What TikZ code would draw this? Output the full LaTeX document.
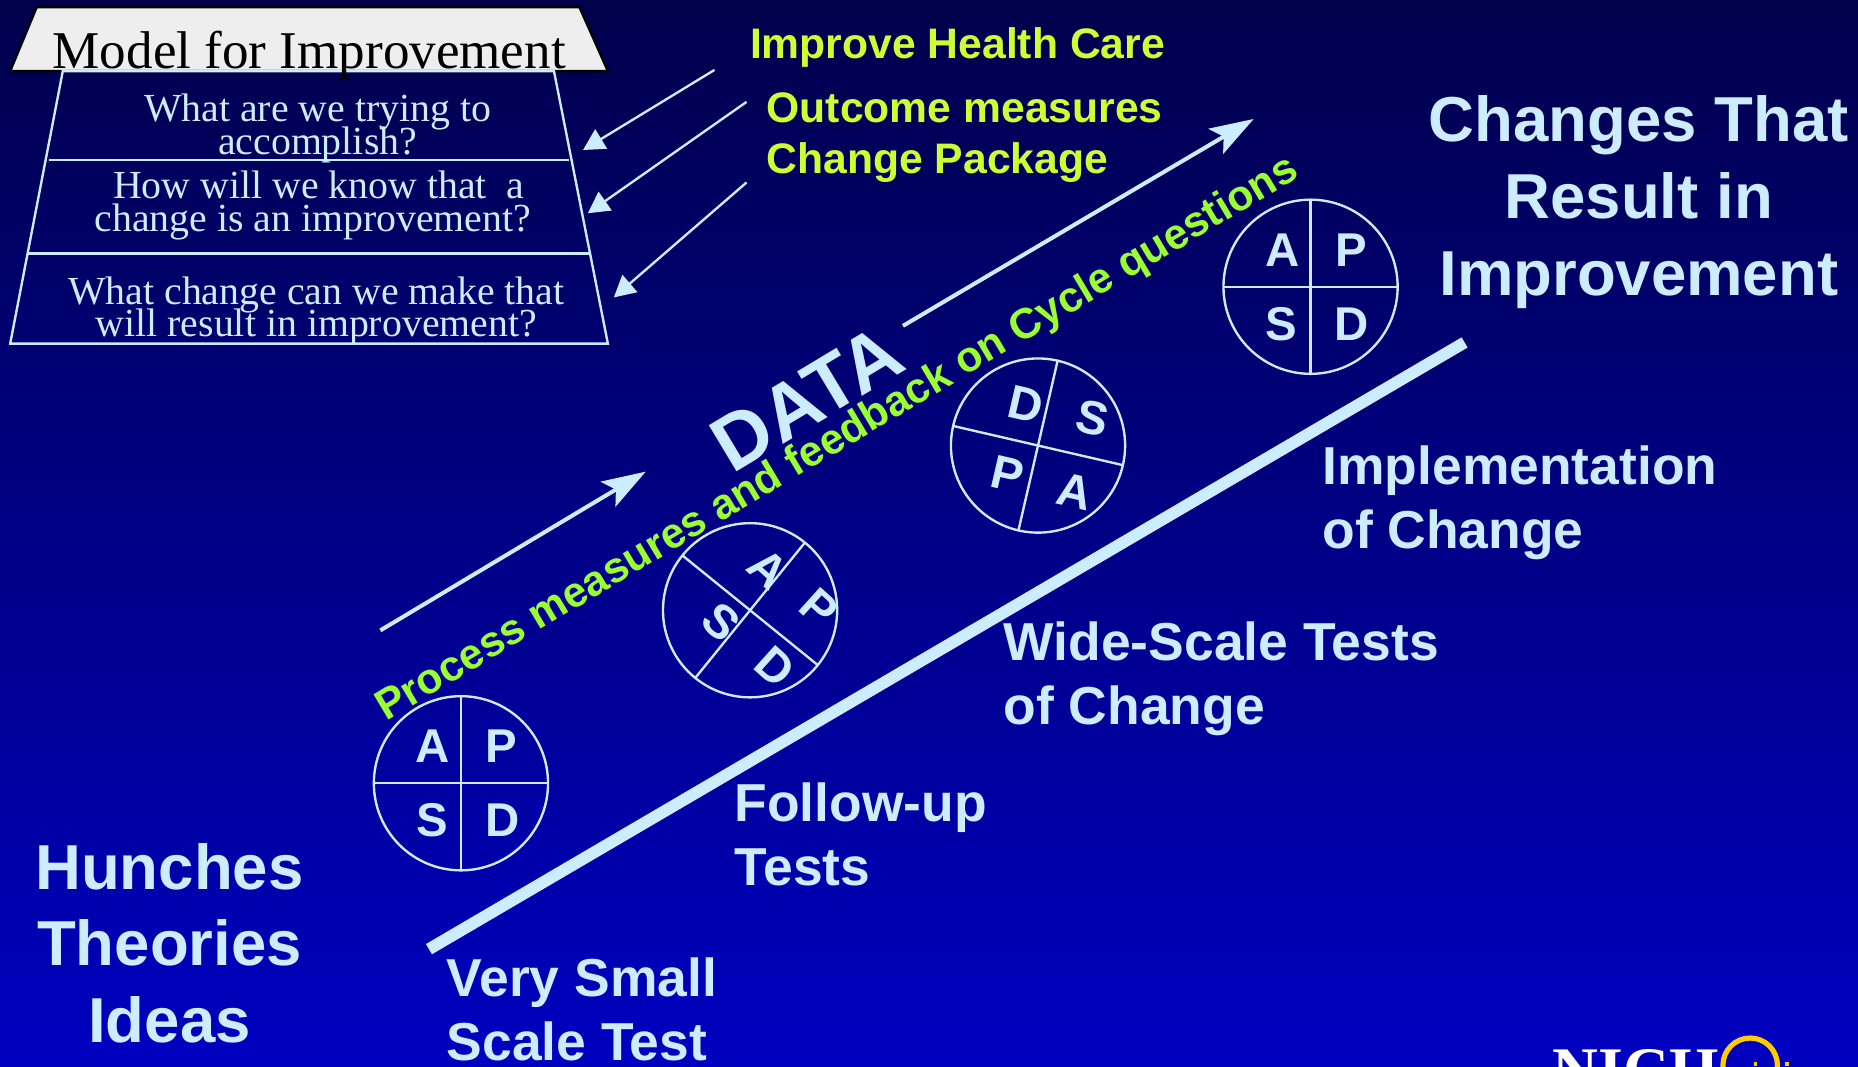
\documentclass[tikz,border=0pt]{standalone}
\usepackage{fontspec}
\setmainfont{Liberation Serif}
\setsansfont{Liberation Sans}
\usetikzlibrary{arrows.meta}
\definecolor{ice}{HTML}{CCECFF}
\definecolor{lime}{HTML}{CCFF33}
\definecolor{grn}{HTML}{99FF33}
\definecolor{bgtop}{HTML}{00004B}
\definecolor{bgmid}{HTML}{00008C}
\definecolor{bgbot}{HTML}{0000C0}
\definecolor{panel}{HTML}{EEEEEE}
\definecolor{logoy}{HTML}{FFCC00}
\newcommand{\fs}[2]{\fontsize{#1pt}{#2pt}\selectfont}
\newcommand{\tightlines}{\setlength{\lineskiplimit}{-30pt}}
\newcommand{\qfont}{\rmfamily\fs{16.8}{13.7}\tightlines}
\tikzset{
  x=0.5pt,y=-0.5pt,
  lbl/.style={inner sep=0pt,outer sep=0pt,font=\sffamily\bfseries\fs{22.55}{27},text=ice,align=left,anchor=base west},
  big/.style={inner sep=0pt,outer sep=0pt,font=\sffamily\bfseries\fs{26.8}{32.4},text=ice,align=center,anchor=base},
  limet/.style={inner sep=0pt,outer sep=0pt,font=\sffamily\bfseries\fs{18}{21},text=lime,anchor=base west},
  ques/.style={inner sep=0pt,outer sep=0pt,font=\qfont,text=ice,align=center,anchor=base},
  pdsa/.style={circle,draw=ice,line width=1pt,minimum size=73.5pt,inner sep=0pt,outer sep=0pt},
  let/.style={inner sep=0pt,outer sep=0pt,font=\sffamily\bfseries\fs{20}{24},text=ice},
  div/.style={draw=ice,line width=1pt},
  frame/.style={draw=ice,line width=1pt},
  arr/.style={draw=ice,line width=1pt,-{Triangle[length=9pt,width=9.5pt]}},
  bigarr/.style={draw=ice,line width=1.7pt,-{Stealth[length=18.5pt,width=12.2pt,inset=3.8pt]}},
}
\begin{document}
\begin{tikzpicture}
\useasboundingbox (0,0) rectangle (1568,900);
\shade[top color=bgtop,middle color=bgmid,bottom color=bgbot] (0,0) rectangle (1568,900);

% header panel and question frame
\draw[fill=panel,draw=black,line width=1pt] (8.6,60) -- (31,6) -- (489,6) -- (513,60) -- cycle;
\draw[frame] (53,60) -- (467.5,60) -- (513,290) -- (8.6,290) -- cycle;
\node[inner sep=0pt,font=\rmfamily\fs{22.4}{26},text=black,anchor=base] (title) at (261,58) {Model for Improvement};
\draw[frame] (41,135) -- (480,135);
\draw[frame] (24,214) -- (497,214);
\node[ques] (q1) at (268,130) {What are we trying to\\accomplish?};
\node[ques] (q2) at (264,195) {\hspace*{5pt}How will we know that\ \ a\\change is an improvement?};
\node[ques] (q3) at (267,284) {What change can we make that\\will result in improvement?};

% yellow labels
\node[limet] (l1) at (633,49) {Improve Health Care};
\node[limet] (l2) at (647,103) {Outcome measures};
\node[limet] (l3) at (647,146) {Change Package};

% small arrows
\coordinate (a1s) at (603,59); \coordinate (a1e) at (492,126.6);
\coordinate (a2s) at (630,86); \coordinate (a2e) at (496,180);
\coordinate (a3s) at (630,154); \coordinate (a3e) at (518,251);
\draw[arr] (a1s) -- (a1e);
\draw[arr] (a2s) -- (a2e);
\draw[arr] (a3s) -- (a3e);

% data arrows
\coordinate (d1s) at (321,532); \coordinate (d1e) at (545,398);
\coordinate (d2s) at (762,275); \coordinate (d2e) at (1058,100.4);
\draw[bigarr] (d1s) -- (d1e);
\draw[bigarr] (d2s) -- (d2e);
\node[inner sep=0pt,font=\sffamily\bfseries\fs{33}{40},text=ice,rotate=31] (data) at (681,336) {DATA};
\node[inner sep=0pt,font=\sffamily\bfseries\fs{18}{22},text=grn,rotate=30.8] (proc) at (707,371) {Process measures and feedback on Cycle questions};

% thick line
\coordinate (t1) at (362,801); \coordinate (t2) at (1236,289);
\draw[draw=ice,line width=5pt] (t1) -- (t2);

% cycle 1
\node[pdsa] (c1) at (389,661) {};
\draw[div] (c1.north) -- (c1.south);
\draw[div] (c1.west) -- (c1.east);
\node[let] (c1a) at (365,630) {A};
\node[let] (c1p) at (423,630) {P};
\node[let] (c1s) at (365,692) {S};
\node[let] (c1d) at (424,692) {D};

% cycle 2
\node[pdsa] (c2) at (633,515) {};
\draw[div] (c2.51) -- (c2.231);
\draw[div] (c2.141) -- (c2.321);
\node[let,rotate=-42] (c2a) at (648,480) {A};
\node[let,rotate=-42] (c2p) at (691,513) {P};
\node[let,rotate=-42] (c2s) at (609,525) {S};
\node[let,rotate=-42] (c2d) at (654,563) {D};

% cycle 3
\node[pdsa] (c3) at (876,376) {};
\draw[div] (c3.77) -- (c3.257);
\draw[div] (c3.167) -- (c3.347);
\node[let,rotate=-13] (c3d) at (866,341) {D};
\node[let,rotate=-13] (c3s) at (922,353) {S};
\node[let,rotate=-13] (c3p) at (850,400) {P};
\node[let,rotate=-13] (c3a) at (907,415) {A};

% cycle 4
\node[pdsa] (c4) at (1106,242) {};
\draw[div] (c4.north) -- (c4.south);
\draw[div] (c4.west) -- (c4.east);
\node[let] (c4a) at (1082,211) {A};
\node[let] (c4p) at (1140,211) {P};
\node[let] (c4s) at (1081,274) {S};
\node[let] (c4d) at (1141,274) {D};

% stage labels
\node[lbl] (s1) at (377,895) {Very Small\\Scale Test};
\node[lbl] (s2) at (620,747) {Follow-up\\Tests};
\node[lbl] (s3) at (847,611) {Wide-Scale Tests\\of Change};
\node[lbl] (s4) at (1116,463) {Implementation\\of Change};
\node[big] (hunch) at (143,880) {Hunches\\Theories\\Ideas};
\node[big] (chg) at (1383,249) {Changes That\\Result in\\Improvement};

% logo, cut by the lower edge
\begin{scope}
\clip (0,0) rectangle (1568,900);
\node[inner sep=0pt,font=\rmfamily\bfseries\fs{26.8}{32},text=white,anchor=base west] (nich) at (1310,921) {NICH};
\draw[logoy,line width=2.2pt] (1477,899) circle (23);
\fill[logoy] (1480,896) rectangle (1483,900);
\fill[logoy] (1506,896) rectangle (1510,900);
\end{scope}
\end{tikzpicture}
\end{document}
